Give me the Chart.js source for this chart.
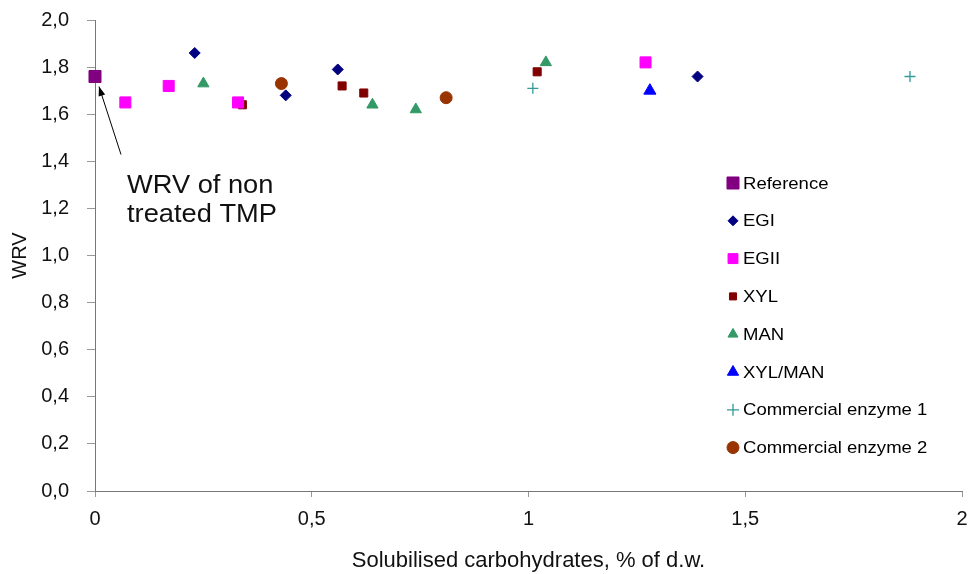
<!DOCTYPE html>
<html>
<head>
<meta charset="utf-8">
<script src="https://cdn.jsdelivr.net/npm/chart.js@4/dist/chart.umd.min.js"></script>
<style>
    html, body { margin: 0; padding: 0; background: #fff; }
    #wrap { width: 974px; height: 574px; }
</style>
</head>
<body>
<div id="wrap"><canvas id="myChart" width="974" height="574"></canvas></div>
<script>
// данные с графика (x - % солюбилизированных углеводов, y - WRV)
const seriesNames = ['Reference', 'EGI', 'EGII', 'XYL', 'MAN', 'XYL/MAN', 'Commercial enzyme 1', 'Commercial enzyme 2'];

const referenceX = [0];
const referenceY = [1.76];
const egiX = [0.23, 0.44, 0.56, 1.39];
const egiY = [1.86, 1.68, 1.79, 1.76];
const egiiX = [0.07, 0.17, 0.33, 1.27];
const egiiY = [1.65, 1.72, 1.65, 1.82];
const xylX = [0.34, 0.57, 0.62, 1.02];
const xylY = [1.64, 1.72, 1.69, 1.78];
const manX = [0.25, 0.64, 0.74, 1.04];
const manY = [1.73, 1.64, 1.62, 1.82];
const xylManX = [1.28];
const xylManY = [1.70];
const comm1X = [1.01, 1.88];
const comm1Y = [1.71, 1.76];
const comm2X = [0.43, 0.81];
const comm2Y = [1.73, 1.67];

const xTicks = [0, 0.5, 1, 1.5, 2];
const yTicks = [0, 0.2, 0.4, 0.6, 0.8, 1.0, 1.2, 1.4, 1.6, 1.8, 2.0];

const annotationLines = ['WRV of non', 'treated TMP'];

function toPoints(xs, ys) {
    return xs.map((x, i) => ({x: x, y: ys[i]}));
}

function comma(v, digits) {
    return v.toFixed(digits).replace('.', ',');
}

const FONT = "'Liberation Sans', Arial, sans-serif";
const STRETCH = 1.09; // текст в оригинале немного растянут по ширине

function makeSet(label, xs, ys, color, style, radius, legendRadius) {
    return {
        label: label,
        data: toPoints(xs, ys),
        pointStyle: style,
        pointRadius: radius,
        pointHoverRadius: radius,
        backgroundColor: color,
        borderColor: color,
        borderWidth: style === 'cross' ? 1.3 : 1,
        clip: false,
        legendRadius: legendRadius
    };
}

const datasets = [
    makeSet(seriesNames[0], referenceX, referenceY, '#800080', 'rect', 8.5, 8.5),
    makeSet(seriesNames[1], egiX, egiY, '#000080', 'rectRot', 5.5, 5),
    makeSet(seriesNames[2], egiiX, egiiY, '#FF00FF', 'rect', 7.8, 7),
    makeSet(seriesNames[3], xylX, xylY, '#800000', 'rect', 5.7, 5),
    makeSet(seriesNames[4], manX, manY, '#339966', 'triangle', 6.5, 5.8),
    makeSet(seriesNames[5], xylManX, xylManY, '#0000FF', 'triangle', 7, 6.5),
    makeSet(seriesNames[6], comm1X, comm1Y, '#339999', 'cross', 5.5, 6),
    makeSet(seriesNames[7], comm2X, comm2Y, '#993300', 'circle', 6, 6)
];

// растянутый текст на canvas
function wideText(ctx, text, x, y) {
    ctx.save();
    ctx.translate(x, y);
    ctx.scale(STRETCH, 1);
    ctx.fillText(text, 0, 0);
    ctx.restore();
}

// свой legend внутри области графика справа
const insideLegend = {
    id: 'insideLegend',
    afterDraw(chart) {
        const ctx = chart.ctx;
        ctx.save();
        ctx.font = '17px ' + FONT;
        ctx.textBaseline = 'middle';
        chart.data.datasets.forEach((ds, i) => {
            const y = 183 + i * 37.8;
            ctx.fillStyle = ds.backgroundColor;
            ctx.strokeStyle = ds.borderColor;
            ctx.lineWidth = ds.borderWidth;
            Chart.helpers.drawPoint(ctx, {
                pointStyle: ds.pointStyle,
                radius: ds.legendRadius,
                rotation: 0,
                borderWidth: ds.borderWidth
            }, 733, y);
            ctx.fillStyle = '#000';
            wideText(ctx, ds.label, 743, y + 1);
        });
        ctx.restore();
    }
};

// подпись со стрелкой к точке Reference
const arrowNote = {
    id: 'arrowNote',
    afterDraw(chart) {
        const ctx = chart.ctx;
        const xs = chart.scales.x;
        const ys = chart.scales.y;
        const px = xs.getPixelForValue(referenceX[0]);
        const py = ys.getPixelForValue(referenceY[0]);
        const tipX = px + 4, tipY = py + 10;
        const endX = px + 26, endY = py + 78;
        ctx.save();
        ctx.strokeStyle = '#000';
        ctx.fillStyle = '#000';
        ctx.lineWidth = 1;
        ctx.beginPath();
        ctx.moveTo(endX, endY);
        ctx.lineTo(tipX, tipY);
        ctx.stroke();
        const ang = Math.atan2(tipY - endY, tipX - endX);
        const len = 10, w = 0.35;
        ctx.beginPath();
        ctx.moveTo(tipX, tipY);
        ctx.lineTo(tipX - len * Math.cos(ang - w), tipY - len * Math.sin(ang - w));
        ctx.lineTo(tipX - len * Math.cos(ang + w), tipY - len * Math.sin(ang + w));
        ctx.closePath();
        ctx.fill();
        ctx.font = '25px ' + FONT;
        ctx.textBaseline = 'middle';
        ctx.fillStyle = '#111';
        wideText(ctx, annotationLines[0], 127, 186);
        wideText(ctx, annotationLines[1], 127, 215);
        ctx.restore();
    }
};

const ctx = document.getElementById('myChart');

new Chart(ctx, {
    type: 'scatter',
    data: {datasets: datasets},
    options: {
        responsive: false,
        animation: false,
        layout: {padding: {top: 20, right: 12, left: 0, bottom: 0}},
        plugins: {
            legend: {display: false},
            tooltip: {enabled: false}
        },
        scales: {
            x: {
                type: 'linear',
                min: 0,
                max: 2,
                afterBuildTicks(scale) {
                    scale.ticks = xTicks.map(v => ({value: v}));
                },
                afterFit(scale) {
                    scale.height = 83;
                    scale.paddingLeft = 0;
                    scale.paddingRight = 0;
                },
                border: {display: true, color: '#777', dash: [1, 1]},
                grid: {drawOnChartArea: false, tickLength: 6, color: '#999'},
                ticks: {
                    color: '#111',
                    font: {family: FONT, size: 20},
                    padding: 10,
                    maxRotation: 0,
                    callback: v => (v === 0 || v === 1 || v === 2) ? String(v) : comma(v, 1)
                },
                title: {
                    display: true,
                    text: 'Solubilised carbohydrates, % of d.w.',
                    color: '#111',
                    font: {family: FONT, size: 22},
                    padding: {top: 4, bottom: 0}
                }
            },
            y: {
                type: 'linear',
                min: 0,
                max: 2,
                afterBuildTicks(scale) {
                    scale.ticks = yTicks.map(v => ({value: v}));
                },
                afterFit(scale) {
                    scale.width = 95;
                    scale.paddingTop = 0;
                    scale.paddingBottom = 0;
                },
                border: {display: true, color: '#777', dash: [1, 1]},
                grid: {drawOnChartArea: false, tickLength: 8, color: '#999'},
                ticks: {
                    color: '#111',
                    font: {family: FONT, size: 20},
                    padding: 18,
                    callback: v => comma(v, 1)
                },
                title: {
                    display: true,
                    text: 'WRV',
                    color: '#111',
                    font: {family: FONT, size: 20},
                    padding: {top: 8, bottom: 0}
                }
            }
        }
    },
    plugins: [insideLegend, arrowNote]
});
</script>
</body>
</html>
